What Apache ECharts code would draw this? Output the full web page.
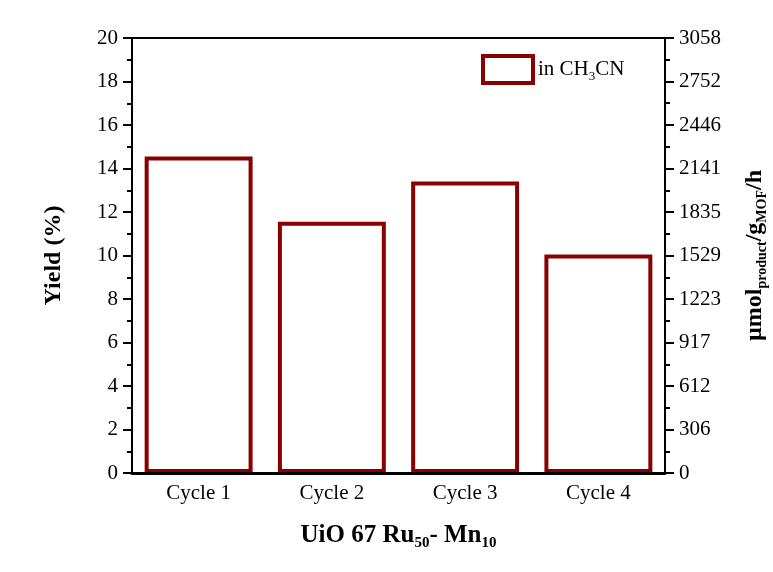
<!DOCTYPE html>
<html>
<head>
<meta charset="utf-8">
<script src="https://cdn.jsdelivr.net/npm/echarts@6/dist/echarts.min.js"></script>
<style>
  html, body { margin: 0; padding: 0; background: #fff; }
  #main { width: 773px; height: 572px; }
</style>
</head>
<body>
<div id="main"></div>
<script>
var categories = ['Cycle 1', 'Cycle 2', 'Cycle 3', 'Cycle 4'];
var yieldValues = [14.55, 11.55, 13.4, 10.05];
var rightMax = 3058;   // right axis: 0 .. 3058 in 10 steps

var RED = '#8a0000';
var FONT = '"Liberation Serif", "Times New Roman", serif';

var myChart = echarts.init(document.getElementById('main'));
var option = {
    backgroundColor: '#fff',
    animation: false,
    textStyle: { fontFamily: FONT, color: '#000' },
    grid: {
        left: 132, right: 108, top: 38, bottom: 99,
        outerBoundsMode: 'none',
        containLabel: false,
        show: true, borderColor: '#000', borderWidth: 2
    },
    legend: {
        data: ['in CH3CN'],
        left: 481, top: 54,
        padding: 0,
        itemWidth: 50, itemHeight: 27,
        icon: 'rect',
        itemStyle: { color: '#fff', borderColor: RED, borderWidth: 4 },
        formatter: function () { return '{a|in CH}{s|3}{a|CN}'; },
        textStyle: {
            fontFamily: FONT,
            rich: {
                a: { fontSize: 21, fontFamily: FONT, color: '#000' },
                s: { fontSize: 13, fontFamily: FONT, color: '#000', padding: [14, 0, 0, 0] }
            }
        }
    },
    xAxis: {
        type: 'category',
        data: categories,
        z: 5,
        axisLine: { lineStyle: { color: '#000', width: 3 } },
        axisTick: { show: false },
        axisLabel: { fontSize: 21, fontFamily: FONT, color: '#000', margin: 10 },
        name: '{b|UiO 67 Ru}{s|50}{b|- Mn}{s|10}',
        nameLocation: 'middle',
        nameGap: 47,
        nameTextStyle: {
            rich: {
                b: { fontSize: 25, fontWeight: 'bold', fontFamily: FONT, color: '#000' },
                s: { fontSize: 15, fontWeight: 'bold', fontFamily: FONT, color: '#000', padding: [16, 0, 0, 0] }
            }
        }
    },
    yAxis: [
        {
            type: 'value',
            min: 0, max: 20, interval: 2,
            splitLine: { show: false },
            axisLine: { show: true, lineStyle: { color: '#000', width: 2 } },
            axisTick: { show: true, inside: false, length: 9, lineStyle: { color: '#000', width: 2 } },
            minorTick: { show: true, splitNumber: 2, length: 5, lineStyle: { color: '#000', width: 2 } },
            axisLabel: { fontSize: 21, fontFamily: FONT, color: '#000', margin: 14, inside: false },
            name: 'Yield (%)',
            nameLocation: 'middle',
            nameRotate: 90,
            nameGap: 66,
            nameTextStyle: { fontSize: 24, fontWeight: 'bold', fontFamily: FONT, color: '#000' }
        },
        {
            type: 'value',
            position: 'right',
            min: 0, max: rightMax, interval: rightMax / 10,
            splitLine: { show: false },
            axisLine: { show: true, lineStyle: { color: '#000', width: 2 } },
            axisTick: { show: true, inside: false, length: 9, lineStyle: { color: '#000', width: 2 } },
            minorTick: { show: true, splitNumber: 2, length: 5, lineStyle: { color: '#000', width: 2 } },
            axisLabel: {
                fontSize: 21, fontFamily: FONT, color: '#000', margin: 14, inside: false,
                formatter: function (v) { return Math.round(v); }
            },
            name: '{b|µmol}{s|product}{b|/g}{s|MOF}{b|/h}',
            nameLocation: 'middle',
            nameRotate: 90,
            nameGap: 76,
            nameTextStyle: {
                rich: {
                    b: { fontSize: 24, fontWeight: 'bold', fontFamily: FONT, color: '#000' },
                    s: { fontSize: 14, fontWeight: 'bold', fontFamily: FONT, color: '#000', padding: [14, 0, 0, 0] }
                }
            }
        }
    ],
    series: [
        {
            name: 'in CH3CN',
            type: 'bar',
            data: yieldValues,
            barWidth: '81%',
            itemStyle: { color: '#fff', borderColor: RED, borderWidth: 4 }
        }
    ]
};
myChart.setOption(option);
</script>
</body>
</html>
